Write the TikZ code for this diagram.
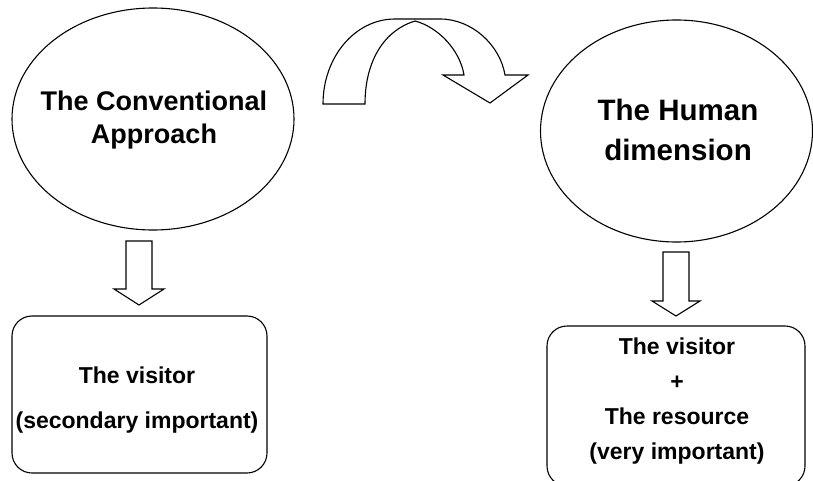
\documentclass[tikz,border=0pt]{standalone}
\usepackage{fontspec}
\setmainfont{Liberation Sans}
\usetikzlibrary{shapes.geometric}
\begin{document}
\begin{tikzpicture}[x=1pt,y=-1pt, line width=1.1pt,
  ell/.style={draw, ellipse, inner sep=0pt},
  rbox/.style={draw, rounded corners=20pt, inner sep=0pt, align=center},
  txt/.style={inner sep=0pt, align=center},
  blk/.style={draw, fill=white, line join=miter}]
\useasboundingbox (0,0) rectangle (813,481);
% ellipses
\node[ell, minimum width=282pt, minimum height=222pt] (conv) at (153,119) {};
\node[txt, font=\fontsize{27pt}{33pt}\selectfont\bfseries] (convt) at (154,120) {The Conventional\\Approach};
\node[ell, minimum width=272pt, minimum height=222pt] (hum) at (676.5,131) {};
\node[txt, font=\fontsize{29.5pt}{40pt}\selectfont\bfseries] (humt) at (678,130) {The Human\\dimension};
% boxes
\node[rbox, minimum width=255pt, minimum height=157pt] (lbox) at (139.5,394.5) {};
\node[txt, font=\fontsize{23pt}{45pt}\selectfont\bfseries] (lboxt) at (137,400) {The visitor\\(secondary important)};
\node[rbox, minimum width=258pt, minimum height=160pt] (rbx) at (676,406) {};
\node[txt, font=\fontsize{23pt}{35pt}\selectfont\bfseries] (rbxt) at (677,401) {The visitor\\+\\The resource\\(very important)};
% down block arrows
\draw[blk] (126,241) -- (152,241) -- (152,289) -- (164,289) -- (139,305) -- (114,289) -- (126,289) -- cycle;
\draw[blk] (663,252) -- (689,252) -- (689,301) -- (700,301) -- (676,316) -- (652,301) -- (663,301) -- cycle;
% curved block arrow
\draw[blk] (323,104) .. controls (323,57) and (355,19) .. (395,19) -- (440,19)
  .. controls (472,19) and (500,45) .. (505,75) -- (528,75) -- (490,103) -- (443,75) -- (464,75)
  .. controls (460,50) and (438,27) .. (415,21)
  .. controls (385,30) and (365,60) .. (365,104) -- cycle;
\end{tikzpicture}
\end{document}
